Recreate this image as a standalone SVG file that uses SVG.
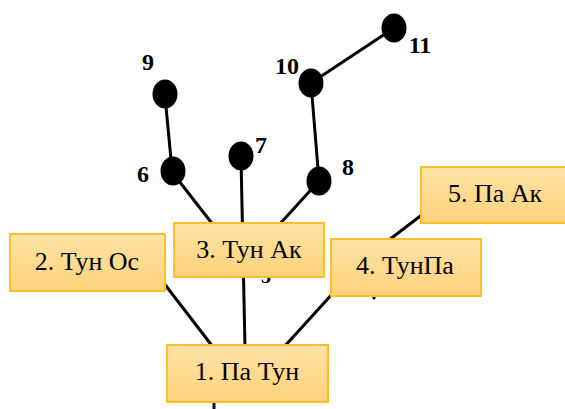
<svg xmlns="http://www.w3.org/2000/svg" width="565" height="409" viewBox="0 0 565 409">
<defs>
<linearGradient id="g" x1="0" y1="0" x2="0" y2="1">
<stop offset="0" stop-color="#FFE3A6"/>
<stop offset="1" stop-color="#FFD27A"/>
</linearGradient>
<style>
.c{stroke:#000;stroke-width:3;fill:none;stroke-linecap:round}
.n{fill:#000}
.lb{font-family:"Liberation Serif",serif;font-weight:bold;font-size:24px;fill:#000;text-anchor:middle}
.b rect{fill:url(#g);stroke:#F9C02A;stroke-width:2}
.b text{font-family:"Liberation Serif",serif;font-size:26px;fill:#000;text-anchor:middle}
</style>
</defs>
<rect width="565" height="409" fill="#fff"/>
<g id="connectors">
<line class="c" x1="165" y1="96" x2="172" y2="170"/>
<line class="c" x1="172" y1="172" x2="214" y2="226"/>
<line class="c" x1="241" y1="158" x2="245" y2="347"/>
<line class="c" x1="319" y1="181" x2="278" y2="226"/>
<line class="c" x1="311" y1="83" x2="319" y2="181"/>
<line class="c" x1="311" y1="83" x2="394" y2="28"/>
<line class="c" x1="163" y1="282" x2="213" y2="347"/>
<line class="c" x1="284" y1="347" x2="334" y2="292"/>
<line class="c" x1="423" y1="214" x2="385" y2="243"/>
<line class="c" x1="374" y1="295" x2="374" y2="298"/>
<line x1="214" y1="402" x2="214" y2="409" stroke="#0a0a30" stroke-width="3"/>
</g>
<text class="lb" x="266" y="283" style="font-size:20px">5</text>
<g id="node9"><ellipse class="n" cx="165" cy="94" rx="12.5" ry="14.5"/><text class="lb" x="148" y="70">9</text></g>
<g id="node6"><ellipse class="n" cx="173" cy="171" rx="12.5" ry="14.5"/><text class="lb" x="143" y="182">6</text></g>
<g id="node7"><ellipse class="n" cx="241" cy="156" rx="12.5" ry="14.5"/><text class="lb" x="261" y="153">7</text></g>
<g id="node8"><ellipse class="n" cx="319" cy="181" rx="12.5" ry="14.5"/><text class="lb" x="348" y="175">8</text></g>
<g id="node10"><ellipse class="n" cx="311" cy="83" rx="12.5" ry="14.5"/><text class="lb" x="287" y="74">10</text></g>
<g id="node11"><ellipse class="n" cx="394" cy="28" rx="12.5" ry="14.5"/><text class="lb" x="420" y="53">11</text></g>
<g id="box2" class="b"><rect x="10" y="234" width="155" height="57"/><text x="87" y="270">2. Тун Ос</text></g>
<g id="box3" class="b"><rect x="174" y="223" width="150" height="54"/><text x="249" y="258">3. Тун Ак</text></g>
<g id="box1" class="b"><rect x="167" y="345" width="161" height="57"/><text x="247" y="380">1. Па Тун</text></g>
<g id="box5" class="b"><rect x="421" y="167" width="146" height="56"/><text x="495" y="202">5. Па Ак</text></g>
<g id="box4" class="b"><rect x="331" y="239" width="150" height="57"/><text x="405" y="274">4. ТунПа</text></g>
</svg>
